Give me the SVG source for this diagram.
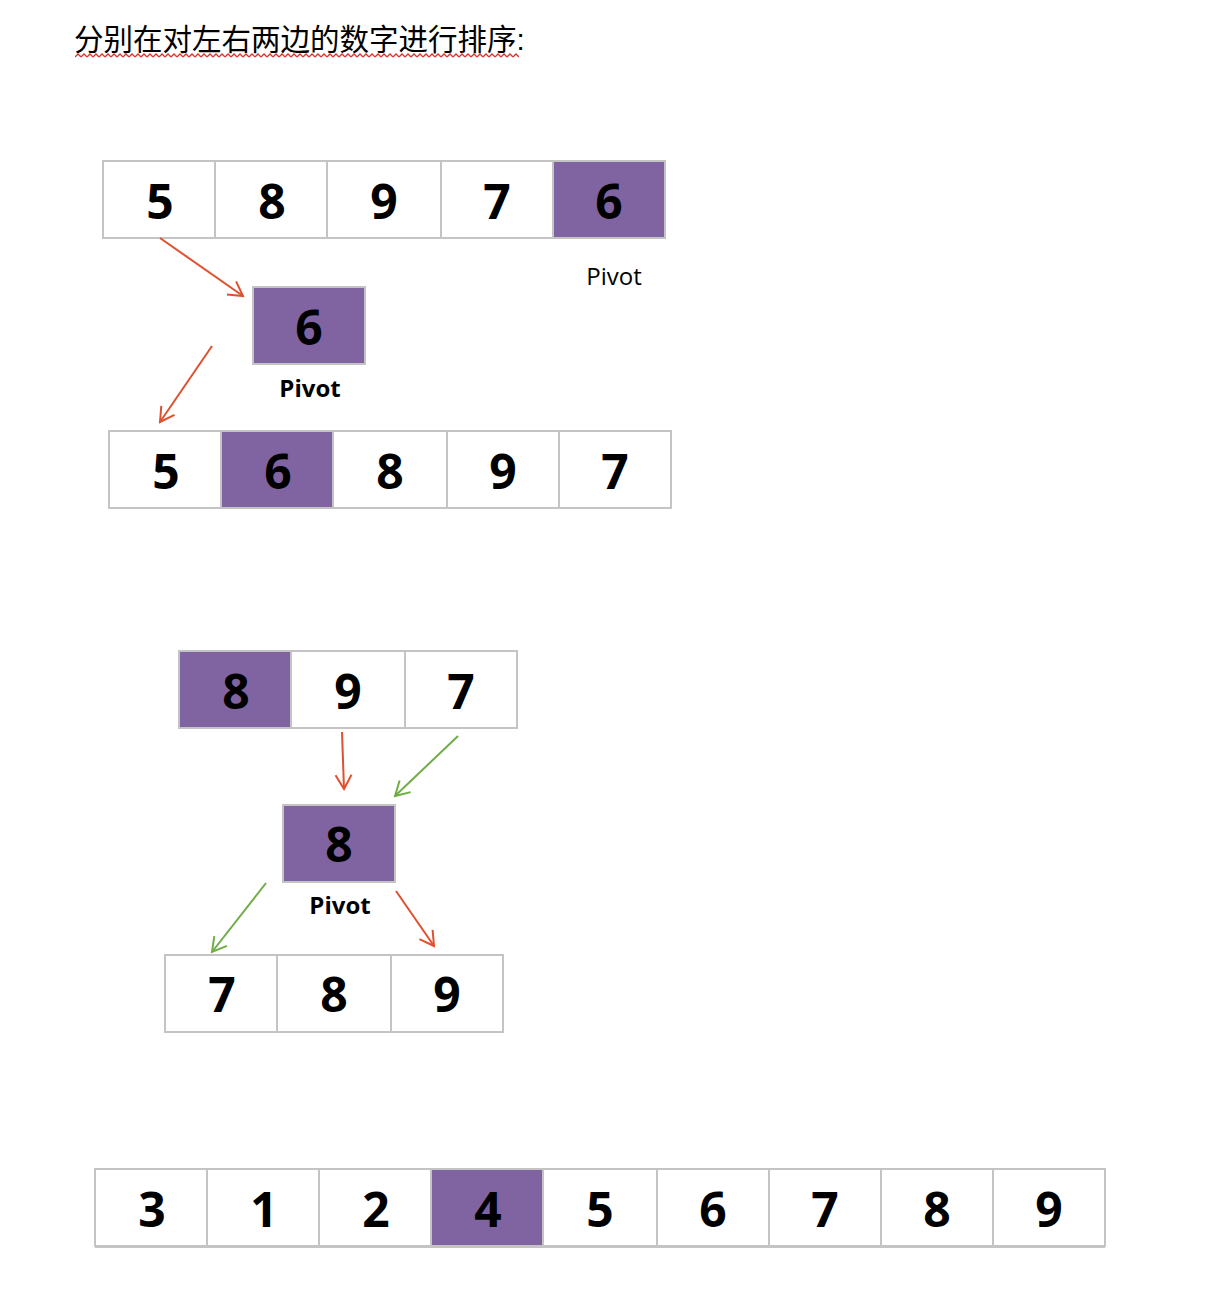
<svg xmlns="http://www.w3.org/2000/svg" width="1226" height="1306" viewBox="0 0 1226 1306">
<style>
.c{fill:#ffffff;stroke:#c4c4c4;stroke-width:2}
.p{fill:#8064a2;stroke:#c4c4c4;stroke-width:2}
.n{font-family:"Open Sans","Liberation Sans",sans-serif;font-weight:bold;font-size:48px;fill:#000;text-anchor:middle}
.nc{font-family:"Liberation Sans Narrow","Open Sans","Liberation Sans",sans-serif;font-weight:bold;font-size:48px;fill:#000;text-anchor:middle}
.lb{font-family:"Open Sans","Liberation Sans",sans-serif;font-size:24px;fill:#000;text-anchor:middle}
.lbb{font-family:"Open Sans","Liberation Sans",sans-serif;font-size:24px;font-weight:bold;fill:#000;text-anchor:middle}
.t{font-family:"Liberation Sans","Noto Sans CJK SC",sans-serif;font-size:29.5px;fill:#000}
.r{stroke:#e0502f;stroke-width:2;fill:none}
.g{stroke:#70ad47;stroke-width:2;fill:none}
</style>
<defs>
<marker id="ar" viewBox="0 0 20 20" refX="18" refY="10" markerWidth="20" markerHeight="20" markerUnits="userSpaceOnUse" orient="auto">
<path d="M4,2 L18,10 L4,18" fill="none" stroke="#e0502f" stroke-width="2"/>
</marker>
<marker id="ag" viewBox="0 0 20 20" refX="18" refY="10" markerWidth="20" markerHeight="20" markerUnits="userSpaceOnUse" orient="auto">
<path d="M4,2 L18,10 L4,18" fill="none" stroke="#70ad47" stroke-width="2"/>
</marker>
<pattern id="wave" x="75" y="53" width="6" height="5" patternUnits="userSpaceOnUse">
<path d="M0,4 L3,1 L6,4" fill="none" stroke="#e0302a" stroke-width="1.3"/>
</pattern>
</defs>
<rect width="1226" height="1306" fill="#ffffff"/>
<g id="title">
<text class="t" x="74" y="50">分别在对左右两边的数字进行排序:</text>
<rect x="75" y="53" width="444" height="5" fill="url(#wave)"/>
</g>

<g id="row1">
<rect class="c" x="103" y="161" width="112" height="77"/>
<rect class="c" x="215" y="161" width="112" height="77"/>
<rect class="c" x="327" y="161" width="114" height="77"/>
<rect class="c" x="441" y="161" width="112" height="77"/>
<rect class="p" x="553" y="161" width="112" height="77"/>
<text class="n" x="160" y="219">5</text>
<text class="n" x="272" y="219">8</text>
<text class="n" x="384" y="219">9</text>
<text class="n" x="497" y="219">7</text>
<text class="n" x="609" y="219">6</text>
<text class="lb" x="614" y="285">Pivot</text>
</g>

<g id="pivot1">
<rect class="p" x="253" y="287" width="112" height="77"/>
<text class="n" x="309" y="345">6</text>
<text class="lbb" x="310" y="397">Pivot</text>
</g>

<g id="row2">
<rect class="c" x="109" y="431" width="112" height="77"/>
<rect class="p" x="221" y="431" width="112" height="77"/>
<rect class="c" x="333" y="431" width="114" height="77"/>
<rect class="c" x="447" y="431" width="112" height="77"/>
<rect class="c" x="559" y="431" width="112" height="77"/>
<text class="n" x="166" y="489">5</text>
<text class="n" x="278" y="489">6</text>
<text class="n" x="390" y="489">8</text>
<text class="n" x="503" y="489">9</text>
<text class="n" x="615" y="489">7</text>
</g>

<g id="row3">
<rect class="p" x="179" y="651" width="112" height="77"/>
<rect class="c" x="291" y="651" width="114" height="77"/>
<rect class="c" x="405" y="651" width="112" height="77"/>
<text class="n" x="236" y="709">8</text>
<text class="n" x="348" y="709">9</text>
<text class="n" x="461" y="709">7</text>
</g>

<g id="pivot2">
<rect class="p" x="283" y="805" width="112" height="77"/>
<text class="n" x="339" y="862">8</text>
<text class="lbb" x="340" y="914">Pivot</text>
</g>

<g id="row4">
<rect class="c" x="165" y="955" width="112" height="77"/>
<rect class="c" x="277" y="955" width="114" height="77"/>
<rect class="c" x="391" y="955" width="112" height="77"/>
<text class="n" x="222" y="1012">7</text>
<text class="n" x="334" y="1012">8</text>
<text class="n" x="447" y="1012">9</text>
</g>

<g id="row5">
<rect class="c" x="95" y="1169" width="112" height="77"/>
<rect class="c" x="207" y="1169" width="112" height="77"/>
<rect class="c" x="319" y="1169" width="112" height="77"/>
<rect class="p" x="431" y="1169" width="112" height="77"/>
<rect class="c" x="543" y="1169" width="114" height="77"/>
<rect class="c" x="657" y="1169" width="112" height="77"/>
<rect class="c" x="769" y="1169" width="112" height="77"/>
<rect class="c" x="881" y="1169" width="112" height="77"/>
<rect class="c" x="993" y="1169" width="112" height="77"/>
<line x1="95" y1="1246.5" x2="1105" y2="1246.5" stroke="#c4c4c4" stroke-width="3"/>
<text class="nc" x="152" y="1227">3</text>
<text class="nc" x="264" y="1227">1</text>
<text class="nc" x="376" y="1227">2</text>
<text class="nc" x="488" y="1227">4</text>
<text class="nc" x="600" y="1227">5</text>
<text class="nc" x="713" y="1227">6</text>
<text class="nc" x="825" y="1227">7</text>
<text class="nc" x="937" y="1227">8</text>
<text class="nc" x="1049" y="1227">9</text>
</g>

<g id="connectors">
<line class="r" x1="160" y1="238" x2="243" y2="296" marker-end="url(#ar)"/>
<line class="r" x1="212" y1="346" x2="160" y2="422" marker-end="url(#ar)"/>
<line class="r" x1="342" y1="732" x2="344" y2="789" marker-end="url(#ar)"/>
<line class="g" x1="458" y1="736" x2="395" y2="796" marker-end="url(#ag)"/>
<line class="g" x1="266" y1="883" x2="212" y2="952" marker-end="url(#ag)"/>
<line class="r" x1="396" y1="891" x2="434" y2="946" marker-end="url(#ar)"/>
</g>
</svg>
